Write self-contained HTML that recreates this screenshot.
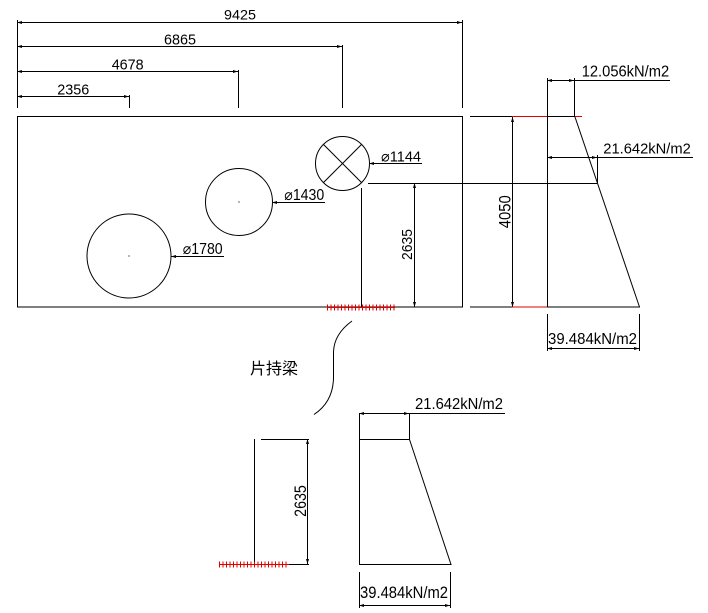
<!DOCTYPE html>
<html><head><meta charset="utf-8"><style>
html,body{margin:0;padding:0;background:#fff;}
svg{display:block;}
text{font-family:"Liberation Sans","DejaVu Sans",sans-serif;fill:#000;}
.cjk{font-family:"Liberation Sans","Noto Sans CJK JP",sans-serif;}
</style></head><body>
<svg width="708" height="613" viewBox="0 0 708 613" xmlns="http://www.w3.org/2000/svg">
<g stroke="#000" stroke-width="1" fill="none">
<!-- top dimension extension lines -->
<line x1="17.5" y1="20" x2="17.5" y2="108"/>
<line x1="462.5" y1="20" x2="462.5" y2="108"/>
<line x1="342.5" y1="45" x2="342.5" y2="108"/>
<line x1="238.5" y1="70" x2="238.5" y2="108"/>
<line x1="129.5" y1="95" x2="129.5" y2="108"/>
<!-- dim lines -->
<line x1="17" y1="22.5" x2="462" y2="22.5"/>
<line x1="17" y1="46.5" x2="342" y2="46.5"/>
<line x1="17" y1="71.5" x2="238" y2="71.5"/>
<line x1="17" y1="96.5" x2="129" y2="96.5"/>
<!-- main rectangle -->
<rect x="17.5" y="116.5" width="445" height="190.5"/>
<!-- circles -->
<circle cx="129" cy="256" r="42"/>
<circle cx="239" cy="202" r="33.5"/>
<circle cx="342.5" cy="163.5" r="27"/>
<line x1="323.4" y1="144.4" x2="361.6" y2="182.6"/>
<line x1="361.6" y1="144.4" x2="323.4" y2="182.6"/>
<!-- leaders -->
<line x1="171" y1="256.5" x2="224" y2="256.5"/>
<line x1="272" y1="202.5" x2="325" y2="202.5"/>
<line x1="369" y1="163.5" x2="422" y2="163.5"/>
<!-- cantilever lines -->
<line x1="361.5" y1="188" x2="361.5" y2="307"/>
<line x1="368" y1="183.5" x2="597" y2="183.5"/>
<line x1="414.5" y1="183" x2="414.5" y2="307"/>
<!-- right load diagram -->
<line x1="470" y1="116.5" x2="512" y2="116.5"/>
<line x1="547" y1="116.5" x2="575" y2="116.5"/>
<line x1="470" y1="307" x2="512" y2="307"/>
<line x1="547" y1="307" x2="640" y2="307"/>
<line x1="512.5" y1="117" x2="512.5" y2="307"/>
<line x1="547.5" y1="78" x2="547.5" y2="307"/>
<line x1="574.5" y1="78" x2="574.5" y2="117"/>
<line x1="575" y1="117" x2="639.5" y2="307"/>
<line x1="547" y1="80.5" x2="670" y2="80.5"/>
<line x1="547" y1="157.5" x2="693" y2="157.5"/>
<line x1="597.5" y1="155" x2="597.5" y2="183"/>
<line x1="547.5" y1="314" x2="547.5" y2="351"/>
<line x1="639.5" y1="314" x2="639.5" y2="351"/>
<line x1="547" y1="348.5" x2="640" y2="348.5"/>
<!-- curve -->
<path d="M352,321 Q334,334 333.5,352 L333.5,378 Q333,402 314,414.5"/>
<!-- bottom left -->
<line x1="254.5" y1="439" x2="254.5" y2="564"/>
<line x1="261" y1="439.5" x2="309" y2="439.5"/>
<line x1="307.5" y1="439" x2="307.5" y2="564"/>
<line x1="254" y1="564.5" x2="309" y2="564.5"/>
<!-- bottom right trapezoid -->
<path d="M359.5,413 L359.5,564.5 L451,564.5 L409.5,439.5 L359.5,439.5"/>
<line x1="409.5" y1="413" x2="409.5" y2="439"/>
<line x1="359" y1="413.5" x2="505" y2="413.5"/>
<line x1="359.5" y1="572" x2="359.5" y2="608"/>
<line x1="450.5" y1="572" x2="450.5" y2="608"/>
<line x1="359" y1="605.5" x2="451" y2="605.5"/>
</g>
<!-- red segments -->
<g stroke="#e00000" stroke-width="1" fill="none">
<line x1="512" y1="116.5" x2="547" y2="116.5"/>
<line x1="575" y1="116.5" x2="582" y2="116.5"/>
<line x1="512" y1="307" x2="547" y2="307"/>
<line x1="327" y1="307.5" x2="395" y2="307.5"/>
<line x1="219" y1="564.5" x2="289" y2="564.5"/>
</g>
<g stroke="#e00000" stroke-width="6" fill="none" stroke-dasharray="1 2.5">
<line x1="327" y1="307.5" x2="396" y2="307.5"/>
<line x1="219" y1="564.5" x2="289" y2="564.5"/>
</g>
<!-- arrowheads -->
<g fill="#000">
<path d="M17,22.5 l5,-1.5 v3z"/><path d="M462,22.5 l-5,-1.5 v3z"/>
<path d="M17,46.5 l5,-1.5 v3z"/><path d="M342,46.5 l-5,-1.5 v3z"/>
<path d="M17,71.5 l5,-1.5 v3z"/><path d="M238,71.5 l-5,-1.5 v3z"/>
<path d="M17,96.5 l5,-1.5 v3z"/><path d="M129,96.5 l-5,-1.5 v3z"/>
<path d="M171,256.5 l5,-1.5 v3z"/>
<path d="M272,202.5 l5,-1.5 v3z"/>
<path d="M369,163.5 l5,-1.5 v3z"/>
<path d="M414.5,183 l-1.5,5 h3z"/><path d="M414.5,307 l-1.5,-5 h3z"/>
<path d="M512.5,117 l-1.5,5 h3z"/><path d="M512.5,307 l-1.5,-5 h3z"/>
<path d="M547,80.5 l5,-1.5 v3z"/><path d="M574,80.5 l-5,-1.5 v3z"/>
<path d="M547,157.5 l5,-1.5 v3z"/><path d="M597,157.5 l-5,-1.5 v3z"/>
<path d="M547,348.5 l5,-1.5 v3z"/><path d="M639,348.5 l-5,-1.5 v3z"/>
<path d="M307.5,439 l-1.5,5 h3z"/><path d="M307.5,564 l-1.5,-5 h3z"/>
<path d="M359,413.5 l5,-1.5 v3z"/><path d="M409,413.5 l-5,-1.5 v3z"/>
<path d="M359,605.5 l5,-1.5 v3z"/><path d="M450,605.5 l-5,-1.5 v3z"/>
<circle cx="129" cy="256" r="0.6"/>
<circle cx="239" cy="202" r="0.6"/>
</g>
<!-- text -->
<text x="224" y="19.5" font-size="14" textLength="32" lengthAdjust="spacingAndGlyphs">9425</text>
<text x="164" y="44.7" font-size="15" textLength="32" lengthAdjust="spacingAndGlyphs">6865</text>
<text x="111.7" y="69.7" font-size="15" textLength="32" lengthAdjust="spacingAndGlyphs">4678</text>
<text x="57.3" y="94.3" font-size="15" textLength="32" lengthAdjust="spacingAndGlyphs">2356</text>
<text x="182.7" y="254" font-size="15.5" textLength="40" lengthAdjust="spacingAndGlyphs">⌀1780</text>
<text x="284.3" y="200" font-size="15.5" textLength="40" lengthAdjust="spacingAndGlyphs">⌀1430</text>
<text x="381" y="161.7" font-size="15" textLength="40" lengthAdjust="spacingAndGlyphs">⌀1144</text>
<text x="581.7" y="76.7" font-size="16" textLength="87.5" lengthAdjust="spacingAndGlyphs">12.056kN/m2</text>
<text x="603.3" y="153.3" font-size="14.5" textLength="87.5" lengthAdjust="spacingAndGlyphs">21.642kN/m2</text>
<text x="548" y="344" font-size="16" textLength="89" lengthAdjust="spacingAndGlyphs">39.484kN/m2</text>
<text x="415" y="409" font-size="15.5" textLength="88" lengthAdjust="spacingAndGlyphs">21.642kN/m2</text>
<text x="360" y="598" font-size="17" textLength="88" lengthAdjust="spacingAndGlyphs">39.484kN/m2</text>
<text transform="translate(510.7,211.7) rotate(-90)" x="0" y="0" text-anchor="middle" font-size="17" textLength="33" lengthAdjust="spacingAndGlyphs">4050</text>
<text transform="translate(412,244.5) rotate(-90)" x="0" y="0" text-anchor="middle" font-size="15" textLength="31" lengthAdjust="spacingAndGlyphs">2635</text>
<text transform="translate(306,501) rotate(-90)" x="0" y="0" text-anchor="middle" font-size="17" textLength="31.7" lengthAdjust="spacingAndGlyphs">2635</text>
<text class="cjk" x="250" y="374" font-size="16" textLength="48" lengthAdjust="spacingAndGlyphs">片持梁</text>
</svg>
</body></html>
